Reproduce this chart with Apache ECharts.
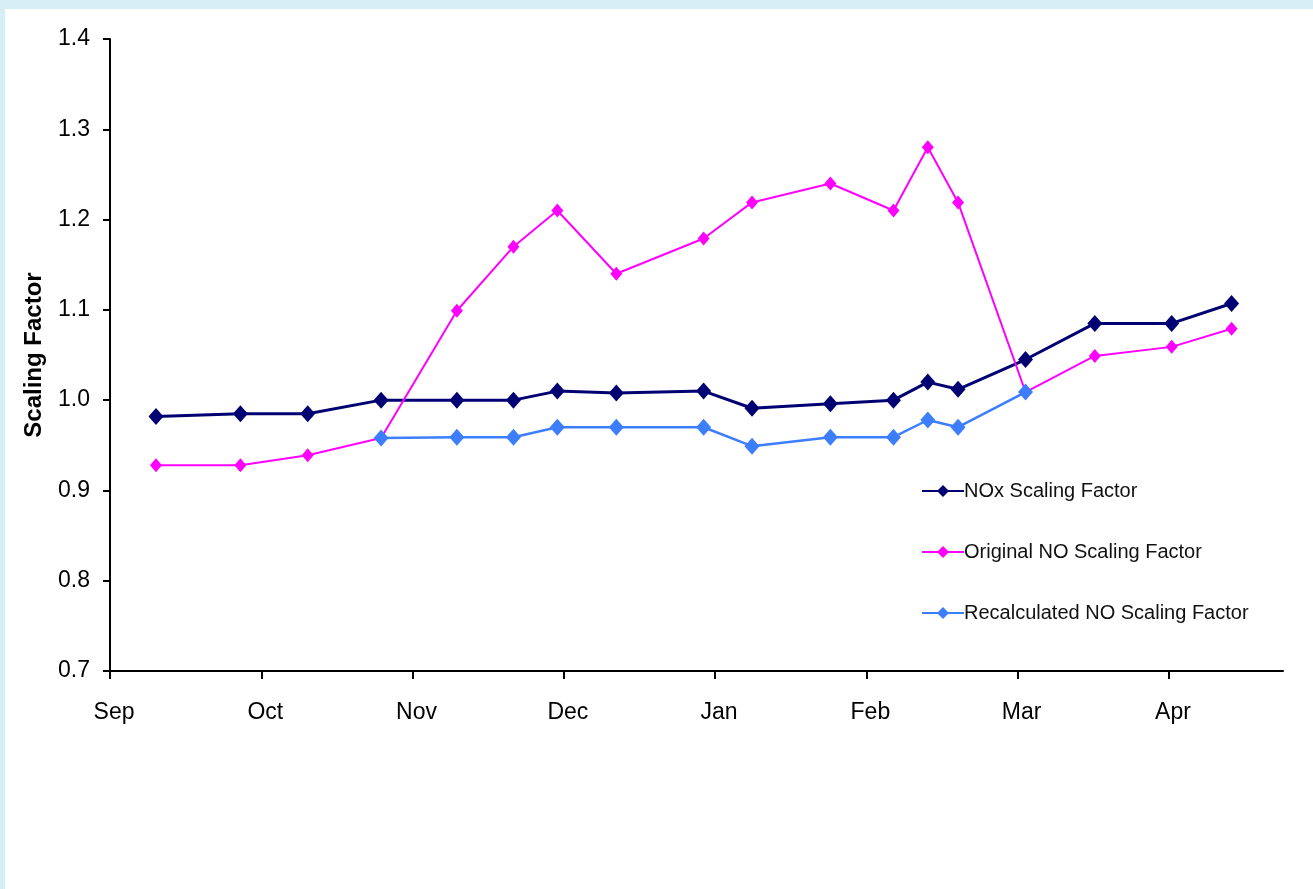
<!DOCTYPE html>
<html>
<head>
<meta charset="utf-8">
<script src="https://cdn.jsdelivr.net/npm/echarts@6/dist/echarts.min.js"></script>
<style>
  html, body { margin: 0; padding: 0; background: #ffffff; }
  #chart { width: 1313px; height: 889px; }
</style>
</head>
<body>
<div id="chart"></div>
<script>
// x positions in month units (0 = start of Sep, 1 = start of Oct, ...)
const monthPos = [0.304, 0.862, 1.307, 1.792, 2.293, 2.667, 2.957, 3.347, 3.924, 4.244, 4.762, 5.179, 5.406, 5.606, 6.052, 6.510, 7.018, 7.414];
const noxFactor = [0.982, 0.985, 0.985, 1.000, 1.000, 1.000, 1.010, 1.008, 1.010, 0.991, 0.996, 1.000, 1.020, 1.012, 1.045, 1.085, 1.085, 1.107];
const originalNO = [0.928, 0.928, 0.939, 0.958, 1.099, 1.170, 1.210, 1.140, 1.179, 1.219, 1.240, 1.210, 1.280, 1.219, 1.009, 1.049, 1.059, 1.079];
const recalculatedNO = [null, null, null, 0.958, 0.959, 0.959, 0.970, 0.970, 0.970, 0.949, 0.959, 0.959, 0.978, 0.970, 1.009, null, null, null];
const monthLabels = ['Sep', 'Oct', 'Nov', 'Dec', 'Jan', 'Feb', 'Mar', 'Apr'];
const seriesNames = ['NOx Scaling Factor', 'Original NO Scaling Factor', 'Recalculated NO Scaling Factor'];

function pairs(vals) {
  return vals.map((v, i) => [monthPos[i], v]);
}

const chart = echarts.init(document.getElementById('chart'), null, { renderer: 'canvas' });
const tickVals = monthLabels.map((_, i) => i);
const fontFam = '"Liberation Sans", Arial, sans-serif';

chart.setOption({
  backgroundColor: '#ffffff',
  animation: false,
  graphic: [
    { type: 'rect', left: 0, top: 0, shape: { width: 1313, height: 9 }, style: { fill: '#d6eef5' }, z: 100 },
    { type: 'rect', left: 0, top: 0, shape: { width: 5, height: 889 }, style: { fill: '#d6eef5' }, z: 100 }
  ],
  grid: { left: 110, top: 39, right: 30, bottom: 218, containLabel: false },
  legend: {
    orient: 'vertical',
    left: 916,
    top: 475,
    itemGap: 39,
    itemWidth: 42,
    itemHeight: 15,
    textStyle: { fontFamily: fontFam, fontSize: 20, color: '#111111', padding: [0, 0, 0, -5], lineHeight: 22 },
    data: seriesNames
  },
  xAxis: {
    type: 'value',
    min: 0,
    max: 7.754,
    interval: 1,
    splitLine: { show: false },
    axisLine: { show: true, onZero: false, lineStyle: { color: '#000', width: 2 } },
    axisTick: { show: true, length: 8, inside: false, customValues: tickVals, lineStyle: { color: '#000', width: 2 } },
    axisLabel: {
      customValues: tickVals,
      margin: 30,
      padding: [0, 0, 0, 8],
      fontFamily: fontFam,
      fontSize: 23,
      color: '#000',
      formatter: (v) => monthLabels[Math.round(v)] || ''
    }
  },
  yAxis: {
    type: 'value',
    min: 0.7,
    max: 1.4,
    interval: 0.1,
    name: 'Scaling Factor',
    nameLocation: 'middle',
    nameGap: 64,
    nameTextStyle: { fontFamily: fontFam, fontSize: 24, fontWeight: 'bold', color: '#000' },
    splitLine: { show: false },
    axisLine: { show: true, lineStyle: { color: '#000', width: 2 } },
    axisTick: { show: true, length: 7, inside: false, lineStyle: { color: '#000', width: 2 } },
    axisLabel: {
      margin: 20,
      padding: [5, 0, 0, 0],
      fontFamily: fontFam,
      fontSize: 23,
      color: '#000',
      formatter: (v) => v.toFixed(1)
    }
  },
  series: [
    {
      name: seriesNames[0],
      type: 'line',
      data: pairs(noxFactor),
      symbol: 'diamond',
      symbolSize: [15, 17],
      lineStyle: { color: '#000073', width: 3 },
      itemStyle: { color: '#000073' },
      z: 2
    },
    {
      name: seriesNames[1],
      type: 'line',
      data: pairs(originalNO),
      symbol: 'diamond',
      symbolSize: [12, 14],
      lineStyle: { color: '#ff00ff', width: 2 },
      itemStyle: { color: '#ff00ff' },
      z: 3
    },
    {
      name: seriesNames[2],
      type: 'line',
      data: pairs(recalculatedNO),
      connectNulls: false,
      symbol: 'diamond',
      symbolSize: [15, 17],
      lineStyle: { color: '#3d7eff', width: 2.5 },
      itemStyle: { color: '#3d7eff' },
      z: 4
    }
  ]
});
</script>
</body>
</html>
